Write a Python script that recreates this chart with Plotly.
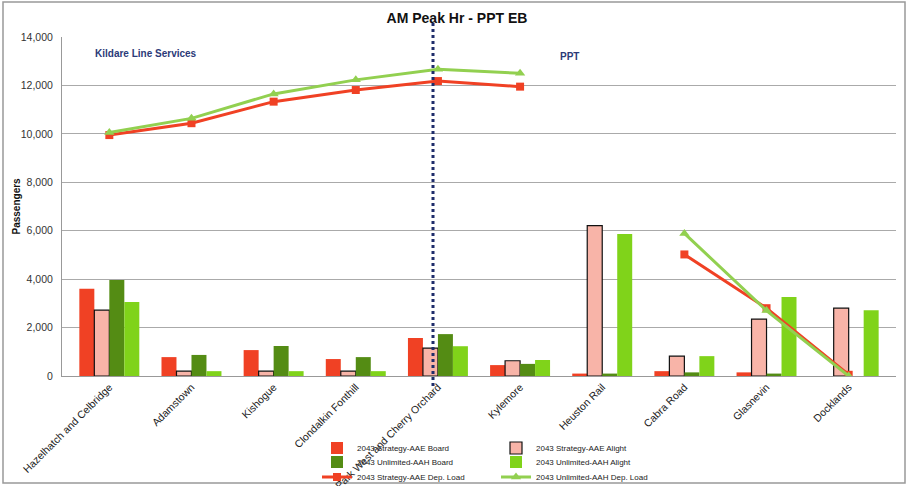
import plotly.graph_objects as go

categories = ["Hazelhatch and Celbridge", "Adamstown", "Kishogue", "Clondalkin Fonthill",
              "Park West and Cherry Orchard", "Kylemore", "Heuston Rail", "Cabra Road",
              "Glasnevin", "Docklands"]

strategy_board = [3600, 780, 1070, 700, 1570, 450, 100, 200, 150, 0]
strategy_alight = [2720, 200, 200, 200, 1150, 630, 6210, 820, 2350, 2800]
unlimited_board = [3960, 870, 1240, 780, 1730, 500, 100, 150, 100, 0]
unlimited_alight = [3060, 200, 200, 200, 1230, 660, 5860, 820, 3260, 2720]
strategy_load = [9950, 10440, 11330, 11810, 12180, 11950, None, 5020, 2800, 50]
unlimited_load = [10060, 10640, 11650, 12230, 12670, 12500, None, 5890, 2700, 0]

y_ticks = [0, 2000, 4000, 6000, 8000, 10000, 12000, 14000]

FONT = "Liberation Sans"
RED = "#f04124"
PINK = "#f8b4a8"
DKGREEN = "#548c14"
LTGREEN = "#80d31a"
LINEGREEN = "#92d050"
NAVY = "#2b3a78"

W, H = 908, 486
L, R, T, B = 62, 12, 37, 110
PW, PH = W - L - R, H - T - B

fig = go.Figure()
fig.add_trace(go.Bar(name="2043 Strategy-AAE Board", x=categories, y=strategy_board,
                     marker=dict(color=RED, line=dict(width=0)), legend="legend"))
fig.add_trace(go.Bar(name="2043 Strategy-AAE Alight", x=categories, y=strategy_alight,
                     marker=dict(color=PINK, line=dict(color="#111111", width=1.2)), legend="legend"))
fig.add_trace(go.Bar(name="2043 Unlimited-AAH Board", x=categories, y=unlimited_board,
                     marker=dict(color=DKGREEN, line=dict(width=0)), legend="legend2"))
fig.add_trace(go.Bar(name="2043 Unlimited-AAH Alight", x=categories, y=unlimited_alight,
                     marker=dict(color=LTGREEN, line=dict(width=0)), legend="legend2"))
fig.add_trace(go.Scatter(name="2043 Strategy-AAE Dep. Load", x=categories, y=strategy_load,
                         mode="lines+markers", line=dict(color=RED, width=3),
                         marker=dict(symbol="square", size=8, color=RED),
                         connectgaps=False, legend="legend3"))
fig.add_trace(go.Scatter(name="2043 Unlimited-AAH Dep. Load", x=categories, y=unlimited_load,
                         mode="lines+markers", line=dict(color=LINEGREEN, width=3),
                         marker=dict(symbol="triangle-up", size=9, color=LINEGREEN),
                         connectgaps=False, legend="legend3"))

legend_common = dict(orientation="h", entrywidth=134, entrywidthmode="pixels",
                     font=dict(family=FONT, size=8, color="#222222"),
                     bgcolor="rgba(0,0,0,0)", xref="container", yref="container",
                     x=317 / W, xanchor="left", yanchor="middle",
                     itemwidth=30, tracegroupgap=0)

fig.update_layout(
    width=W, height=H,
    margin=dict(l=L, r=R, t=T, b=B, autoexpand=False),
    paper_bgcolor="white", plot_bgcolor="white",
    barmode="group", bargap=0.27, bargroupgap=0,
    font=dict(family=FONT, size=10, color="#333333"),
    title=dict(text="<b>AM Peak Hr - PPT EB</b>", x=457 / W, xanchor="center",
               y=1 - 18 / H, yanchor="middle", xref="container", yref="container",
               font=dict(family=FONT, size=14, color="#111111")),
    legend=dict(**legend_common, y=1 - 448 / H),
    legend2=dict(**legend_common, y=1 - 462 / H),
    legend3=dict(**legend_common, y=1 - 477 / H),
    xaxis=dict(type="category", tickangle=-45, showgrid=False, showline=True, automargin=False,
               linecolor="#999999", linewidth=1, ticks="", tickfont=dict(size=10.5, color="#222222")),
    yaxis=dict(range=[0, 14000], tickvals=y_ticks, tickformat=",", showgrid=True, automargin=False,
               gridcolor="#aaaaaa", gridwidth=1, showline=True, linecolor="#999999", linewidth=1,
               zeroline=False, tickfont=dict(size=10.5, color="#333333"), ticklabelstandoff=6),
    showlegend=True,
)

fig.add_shape(type="line", xref="x", yref="paper", x0=3.94, x1=3.94,
              y0=-10 / PH, y1=1 + 15 / PH,
              line=dict(color="#1f2d6b", width=3, dash="dot"), layer="above")

fig.add_shape(type="rect", xref="paper", yref="paper",
              x0=(3 - L) / PW, x1=(905 - L) / PW, y0=(T + PH - 483) / PH, y1=(T + PH - 2) / PH,
              line=dict(color="#999999", width=1.5), fillcolor="rgba(0,0,0,0)", layer="below")

fig.add_annotation(text="<b>Passengers</b>", xref="paper", yref="paper",
                   x=(16 - L) / PW, y=0.5, xanchor="center", yanchor="middle", textangle=-90,
                   showarrow=False, font=dict(family=FONT, size=10, color="#111111"))
fig.add_annotation(text="<b>Kildare Line Services</b>", xref="paper", yref="paper",
                   x=(93 - L) / PW, y=(T + PH - 53) / PH, xanchor="left", yanchor="middle",
                   showarrow=False, font=dict(family=FONT, size=10, color=NAVY))
fig.add_annotation(text="<b>PPT</b>", xref="paper", yref="paper",
                   x=(558 - L) / PW, y=(T + PH - 56) / PH, xanchor="left", yanchor="middle",
                   showarrow=False, font=dict(family=FONT, size=10, color=NAVY))

fig.write_html("out.html", config={"displayModeBar": False},
               post_script="document.body.style.margin='0';")
